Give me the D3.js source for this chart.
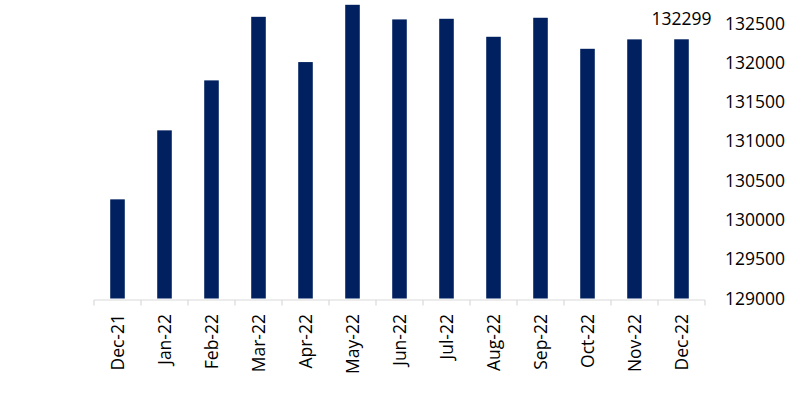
<!DOCTYPE html>
<html>
<head>
<meta charset="utf-8">
<script src="https://cdn.jsdelivr.net/npm/d3@7"></script>
<style>
  html, body { margin: 0; padding: 0; background: #fff; }
  svg { display: block; }
  text { font-family: "Open Sans", sans-serif; fill: #000; }
</style>
</head>
<body>
<svg id="chart" width="800" height="400"></svg>
<script>
const categories = ["Dec-21","Jan-22","Feb-22","Mar-22","Apr-22","May-22","Jun-22","Jul-22","Aug-22","Sep-22","Oct-22","Nov-22","Dec-22"];
const values = [130262, 131140, 131776, 132585, 132009, 132738, 132552, 132560, 132331, 132573, 132178, 132298, 132299];
const yTicks = [129000, 129500, 130000, 130500, 131000, 131500, 132000, 132500];
const labelIndex = 12;

const svg = d3.select("#chart");
const plotLeft = 94, plotRight = 705, plotTop = 23.5, plotBottom = 298.5;

const xBand = d3.scaleBand().domain(categories).range([plotLeft, plotRight]).paddingInner(0.69).paddingOuter(0.345);
const xSlot = d3.scaleBand().domain(categories).range([plotLeft, plotRight]).padding(0);
const y = d3.scaleLinear().domain([129000, 132500]).range([plotBottom, plotTop]);

// bars
svg.append("g").selectAll("rect").data(values).join("rect")
  .attr("x", (d, i) => xBand(categories[i]))
  .attr("width", xBand.bandwidth())
  .attr("y", d => y(d))
  .attr("height", d => y(129000) - y(d))
  .attr("fill", "#002060");

// x axis line and boundary ticks
const gx = svg.append("g");
gx.append("line").attr("x1", plotLeft).attr("x2", plotRight).attr("y1", 300).attr("y2", 300)
  .attr("stroke", "#d9d9d9").attr("stroke-width", 1.2);
const bounds = categories.map(c => xSlot(c)).concat([plotRight]);
gx.selectAll("line.tick").data(bounds).join("line").attr("class", "tick")
  .attr("x1", d => d).attr("x2", d => d).attr("y1", 300).attr("y2", 305.5)
  .attr("stroke", "#d9d9d9").attr("stroke-width", 1.2);
gx.selectAll("text").data(categories).join("text")
  .attr("transform", d => `translate(${xSlot(d) + xSlot.bandwidth() / 2 + 6},314) rotate(-90)`)
  .attr("text-anchor", "end")
  .style("font-size", "17.5px")
  .text(d => d);

// y axis labels on the right
const yAxis = d3.axisRight(y).tickValues(yTicks).tickSize(0).tickPadding(0).tickFormat(d3.format("d"));
const gy = svg.append("g").attr("transform", "translate(725,0)").call(yAxis);
gy.select(".domain").remove();
gy.selectAll("text").style("font-size", "17.5px").style("font-family", "'Open Sans', sans-serif").attr("fill", "#000");

// data label
svg.append("text")
  .attr("x", xBand(categories[labelIndex]) + xBand.bandwidth() / 2)
  .attr("y", y(values[labelIndex]) - 14)
  .attr("text-anchor", "middle")
  .style("font-size", "17.5px")
  .text(values[labelIndex]);
</script>
</body>
</html>
